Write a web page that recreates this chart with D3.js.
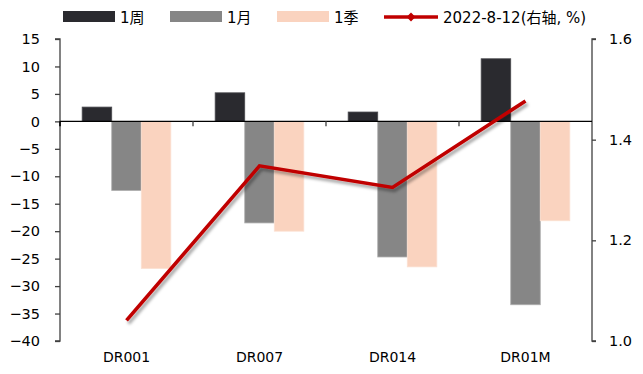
<!DOCTYPE html>
<html>
<head>
<meta charset="utf-8">
<script src="https://cdn.jsdelivr.net/npm/d3@7"></script>
<style>
  html, body { margin: 0; padding: 0; background: #fff; }
  svg { display: block; }
  text { font-family: "DejaVu Sans", "Noto Sans CJK SC", sans-serif; fill: #000; }
</style>
</head>
<body>
<svg id="chart" width="643" height="374"></svg>
<script>
// Spread changes (bp) per tenor and the 2022-8-12 level (%, right axis)
const categories = ["DR001", "DR007", "DR014", "DR01M"];
const seriesNames = ["1周", "1月", "1季"];
const week = [2.6, 5.2, 1.7, 11.4];
const month = [-12.6, -18.5, -24.7, -33.4];
const quarter = [-26.8, -20.0, -26.5, -18.1];
const level = [1.041, 1.348, 1.305, 1.477];
const lineName = "2022-8-12(右轴, %)";
const leftTicks = [15, 10, 5, 0, -5, -10, -15, -20, -25, -30, -35, -40];
const rightTicks = [1.6, 1.4, 1.2, 1.0];
const colors = ["#2A2A2F", "#868686", "#FAD3BF"];
const lineColor = "#C00000";

const svg = d3.select("#chart");
const plotLeft = 60, plotRight = 592, plotTop = 39, plotBottom = 341;

const x = d3.scaleBand().domain(categories).range([plotLeft, plotRight]).paddingInner(0).paddingOuter(0);
const xs = d3.scaleBand().domain(seriesNames).range([0, x.bandwidth()]).paddingInner(0).paddingOuter(0.75);
const y = d3.scaleLinear().domain([-40, 15]).range([plotBottom, plotTop]);
const y2 = d3.scaleLinear().domain([1.0, 1.6]).range([plotBottom, plotTop]);

const defs = svg.append("defs");
const f = defs.append("filter").attr("id", "shadow").attr("x", "-10%").attr("y", "-10%").attr("width", "130%").attr("height", "130%");
f.append("feDropShadow").attr("dx", 2).attr("dy", 3).attr("stdDeviation", 1.6)
  .attr("flood-color", "#000").attr("flood-opacity", 0.35);

// bars
const seriesValues = [week, month, quarter];
seriesValues.forEach((vals, si) => {
  svg.append("g").selectAll("rect")
    .data(categories.map((c, i) => ({ c, v: vals[i] })))
    .join("rect")
    .attr("x", d => x(d.c) + xs(seriesNames[si]))
    .attr("width", xs.bandwidth())
    .attr("y", d => y(Math.max(0, d.v)))
    .attr("height", d => Math.abs(y(d.v) - y(0)))
    .attr("fill", colors[si])
    .attr("stroke", si === 0 ? "#4a4a4f" : (si === 1 ? "#b0b0b0" : "#fbe0d2"))
    .attr("stroke-width", 0.8);
});

// left axis
const yAxis = d3.axisLeft(y).tickValues(leftTicks).tickSize(5).tickPadding(15).tickFormat(d3.format("d"));
const gL = svg.append("g").attr("transform", `translate(${plotLeft},0)`).call(yAxis);
gL.select(".domain").attr("stroke", "#404040").attr("stroke-width", 1.3).attr("d", `M-5,${plotTop}H0V${plotBottom}H-5`);
gL.selectAll(".tick line").attr("stroke", "#404040").attr("stroke-width", 1.3);
gL.selectAll(".tick text").attr("font-size", 14.5);

// right axis
const yAxisR = d3.axisRight(y2).tickValues(rightTicks).tickSize(4).tickPadding(13).tickFormat(d3.format(".1f"));
const gR = svg.append("g").attr("transform", `translate(${plotRight},0)`).call(yAxisR);
gR.select(".domain").attr("stroke", "#404040").attr("stroke-width", 1.3).attr("d", `M4,${plotTop}H0V${plotBottom}H4`);
gR.selectAll(".tick line").attr("stroke", "#404040").attr("stroke-width", 1.3);
gR.selectAll(".tick text").attr("font-size", 14.5);

// zero baseline with category ticks
const zeroY = y(0);
svg.append("line").attr("x1", plotLeft).attr("x2", plotRight).attr("y1", zeroY).attr("y2", zeroY)
  .attr("stroke", "#000").attr("stroke-width", 1.3);
svg.append("g").selectAll("line")
  .data(categories.slice(1))
  .join("line")
  .attr("x1", d => x(d)).attr("x2", d => x(d))
  .attr("y1", zeroY).attr("y2", zeroY + 5)
  .attr("stroke", "#404040").attr("stroke-width", 1.3);
svg.append("line").attr("x1", plotLeft).attr("x2", plotLeft).attr("y1", zeroY).attr("y2", zeroY + 5)
  .attr("stroke", "#000").attr("stroke-width", 1.6);

// category labels
svg.append("g").selectAll("text")
  .data(categories)
  .join("text")
  .attr("x", d => x(d) + x.bandwidth() / 2)
  .attr("y", 362)
  .attr("text-anchor", "middle")
  .attr("font-size", 14)
  .text(d => d);

// level line
const line = d3.line().x((d, i) => x(categories[i]) + x.bandwidth() / 2).y(d => y2(d));
svg.append("path").datum(level)
  .attr("d", line)
  .attr("fill", "none")
  .attr("stroke", lineColor)
  .attr("stroke-width", 3.6)
  .attr("stroke-linejoin", "miter")
  .attr("filter", "url(#shadow)");

// legend
const lg = svg.append("g").attr("transform", "translate(0,17)");
const legendX = [63, 170, 277];
seriesNames.forEach((n, i) => {
  lg.append("rect").attr("x", legendX[i]).attr("y", -6).attr("width", 52).attr("height", 11).attr("fill", colors[i]);
  lg.append("text").attr("x", legendX[i] + 57).attr("y", 5.5).attr("font-size", 15).text(n);
});
lg.append("line").attr("x1", 384).attr("x2", 438).attr("y1", 0).attr("y2", 0)
  .attr("stroke", lineColor).attr("stroke-width", 3.6);
lg.append("path").attr("d", d3.symbol(d3.symbolDiamond2, 50)())
  .attr("transform", "translate(411,0)").attr("fill", lineColor);
lg.append("text").attr("x", 443).attr("y", 5.5).attr("font-size", 15).text(lineName);
</script>
</body>
</html>
